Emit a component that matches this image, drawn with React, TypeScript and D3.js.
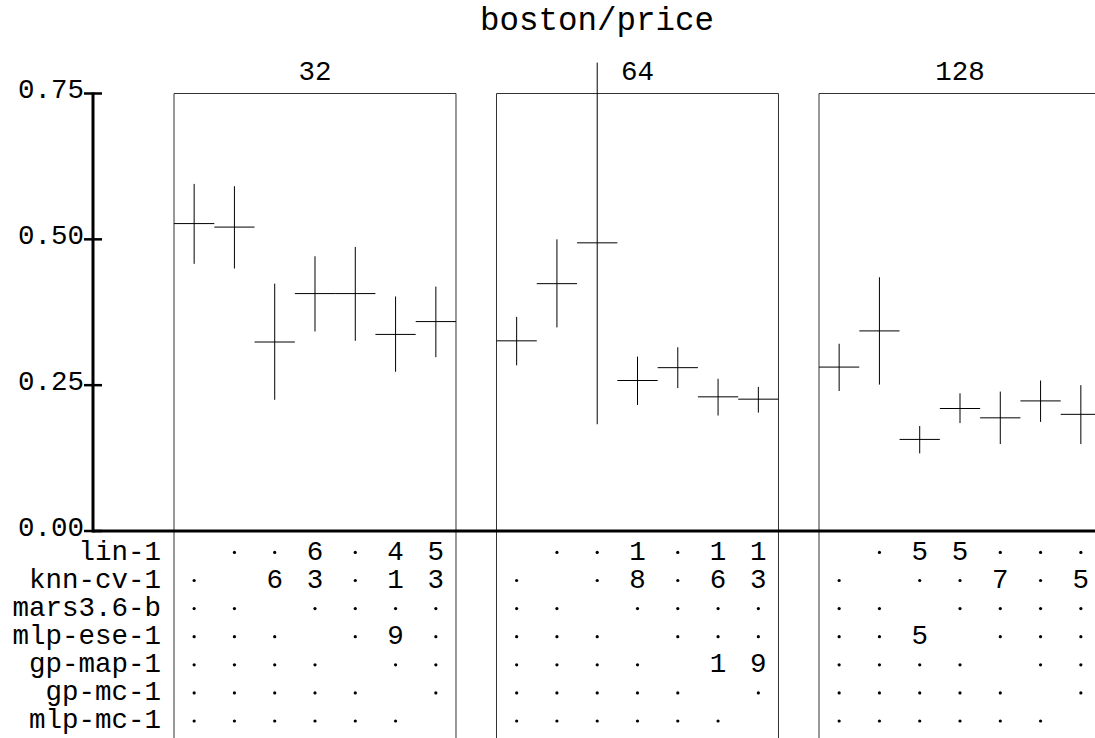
import React from 'react';
import * as d3 from 'd3';

const sizes = ['32', '64', '128'];
const methods = ['lin-1', 'knn-cv-1', 'mars3.6-b', 'mlp-ese-1', 'gp-map-1', 'gp-mc-1', 'mlp-mc-1'];

const mean32 = [0.527, 0.521, 0.324, 0.407, 0.407, 0.337, 0.359];
const lo32 = [0.458, 0.450, 0.225, 0.342, 0.326, 0.273, 0.298];
const hi32 = [0.595, 0.591, 0.424, 0.471, 0.487, 0.402, 0.419];

const mean64 = [0.326, 0.424, 0.494, 0.258, 0.280, 0.230, 0.226];
const lo64 = [0.284, 0.349, 0.183, 0.216, 0.245, 0.198, 0.203];
const hi64 = [0.367, 0.500, 0.803, 0.299, 0.315, 0.261, 0.247];

const mean128 = [0.281, 0.343, 0.157, 0.210, 0.194, 0.223, 0.200];
const lo128 = [0.240, 0.251, 0.133, 0.185, 0.149, 0.187, 0.149];
const hi128 = [0.321, 0.435, 0.180, 0.236, 0.239, 0.258, 0.250];

// one string per row, one char per column: ' ' blank, '.' dot, digit shown as is
const table32 = [' ..6.45', '. 63.13', '.. ....', '... .9.', '.... ..', '..... .', '...... '];
const table64 = [' ..1.11', '. .8.63', '.. ....', '... ...', '.... 19', '..... .', '...... '];
const table128 = [' .55...', '. ..7.5', '.. ....', '..5 ...', '.... ..', '..... .', '...... '];

const yTicks = [0, 0.25, 0.5, 0.75];

const W = 1095, H = 738;
const axisX = 93;
const font = '"Liberation Mono", monospace';
const fs = 27.5;

export default function App() {
  const y = d3.scaleLinear().domain([0, 0.75]).range([531, 93.5]);
  const xPanel = d3.scaleBand().domain(sizes).range([174, 1101]).paddingInner(0.1256);
  const xCol = d3.scaleBand().domain(methods).range([0, xPanel.bandwidth()]);

  const panels = [
    { size: '32', mean: mean32, lo: lo32, hi: hi32, table: table32 },
    { size: '64', mean: mean64, lo: lo64, hi: hi64, table: table64 },
    { size: '128', mean: mean128, lo: lo128, hi: hi128, table: table128 },
  ];

  const rowBase = 559.8, rowStep = 28.1;
  const top = y(0.75);

  return (
    <svg width={W} height={H} style={{ position: 'absolute', left: 0, top: 0, background: '#fff' }}
      fontFamily={font}>
      <text x={597} y={29.5} textAnchor="middle" fontSize={32.5}>boston/price</text>

      {/* y axis */}
      <line x1={axisX} x2={axisX} y1={y(0.75) - 1} y2={y(0) + 1.5} stroke="#000" strokeWidth={3} />
      {yTicks.map(t => (
        <g key={t}>
          <line x1={84} x2={102} y1={y(t)} y2={y(t)} stroke="#000" strokeWidth={2.5} />
          <text x={84} y={y(t) + 4.5} textAnchor="end" fontSize={fs}>
            {d3.format('.2f')(t)}
          </text>
        </g>
      ))}

      {panels.map(p => {
        const x0 = xPanel(p.size)!;
        const bw = xPanel.bandwidth();
        return (
          <g key={p.size}>
            <text x={x0 + bw / 2} y={80} textAnchor="middle" fontSize={fs}>{p.size}</text>
            <line x1={x0} x2={x0 + bw} y1={top} y2={top} stroke="#333" strokeWidth={1} />
            <line x1={x0} x2={x0} y1={top} y2={H} stroke="#333" strokeWidth={1} />
            <line x1={x0 + bw} x2={x0 + bw} y1={top} y2={H} stroke="#333" strokeWidth={1} />
            {methods.map((m, i) => {
              const cx = x0 + xCol(m)! + xCol.bandwidth() / 2;
              return (
                <g key={m}>
                  <line x1={x0 + xCol(m)!} x2={x0 + xCol(m)! + xCol.bandwidth()} y1={y(p.mean[i])} y2={y(p.mean[i])}
                    stroke="#000" strokeWidth={1} />
                  <line x1={cx} x2={cx} y1={y(p.hi[i])} y2={y(p.lo[i])} stroke="#000" strokeWidth={1} />
                </g>
              );
            })}
            {p.table.map((row, r) =>
              row.split('').map((c, j) => {
                const cx = x0 + xCol(methods[j])! + xCol.bandwidth() / 2;
                const by = rowBase + r * rowStep;
                if (c === ' ') return null;
                if (c === '.') return <circle key={`${r}-${j}`} cx={cx} cy={by - 7.4} r={1.6} fill="#000" />;
                return (
                  <text key={`${r}-${j}`} x={cx} y={by} textAnchor="middle" fontSize={fs}>{c}</text>
                );
              })
            )}
          </g>
        );
      })}

      {/* x baseline */}
      <line x1={axisX} x2={W} y1={y(0)} y2={y(0)} stroke="#000" strokeWidth={3} />

      {methods.map((m, r) => (
        <text key={m} x={161} y={rowBase + r * rowStep} textAnchor="end" fontSize={fs}>{m}</text>
      ))}
    </svg>
  );
}
